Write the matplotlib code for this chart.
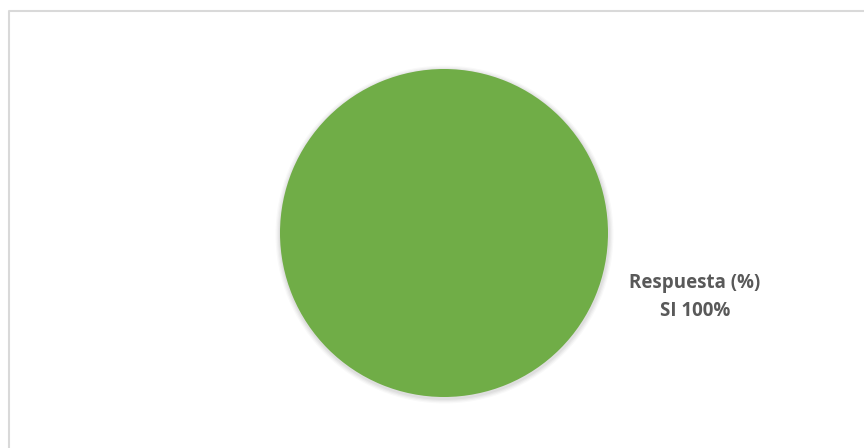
import matplotlib.pyplot as plt
from matplotlib.patches import Circle

categorias = ["SI"]
valores = [100]
serie = "Respuesta (%)"

fig = plt.figure(figsize=(8.64, 4.48), dpi=100)
ax = fig.add_axes([0, 0, 1, 1])
ax.set_xlim(0, 864)
ax.set_ylim(0, 448)
ax.set_aspect("equal")
ax.axis("off")

# borde del área del gráfico (solo arriba e izquierda visibles)
ax.plot([8.5, 8.5, 864], [0, 437, 437], color="#d9d9d9", lw=1.5, solid_capstyle="butt")

cx, cy, r = 444, 215, 164

# sombra suave
for i, a in enumerate([0.025, 0.03, 0.035, 0.04]):
    ax.add_patch(Circle((cx + 0.5, cy - 1.5), r + 5 - i * 1.2, color="#000000", alpha=a, lw=0))

ax.pie(valores, colors=["#70ad47"], center=(cx, cy), radius=r, startangle=90,
       counterclock=False, wedgeprops=dict(linewidth=0))
ax.set_xlim(0, 864)
ax.set_ylim(0, 448)

etiqueta = f"{serie}\n{categorias[0]} {valores[0]}%"
ax.text(695, 151, etiqueta, ha="center", va="center", fontsize=13.5,
        fontweight="bold", color="#595959", family="Open Sans", linespacing=1.55)

fig.savefig("out.png", dpi=100)
